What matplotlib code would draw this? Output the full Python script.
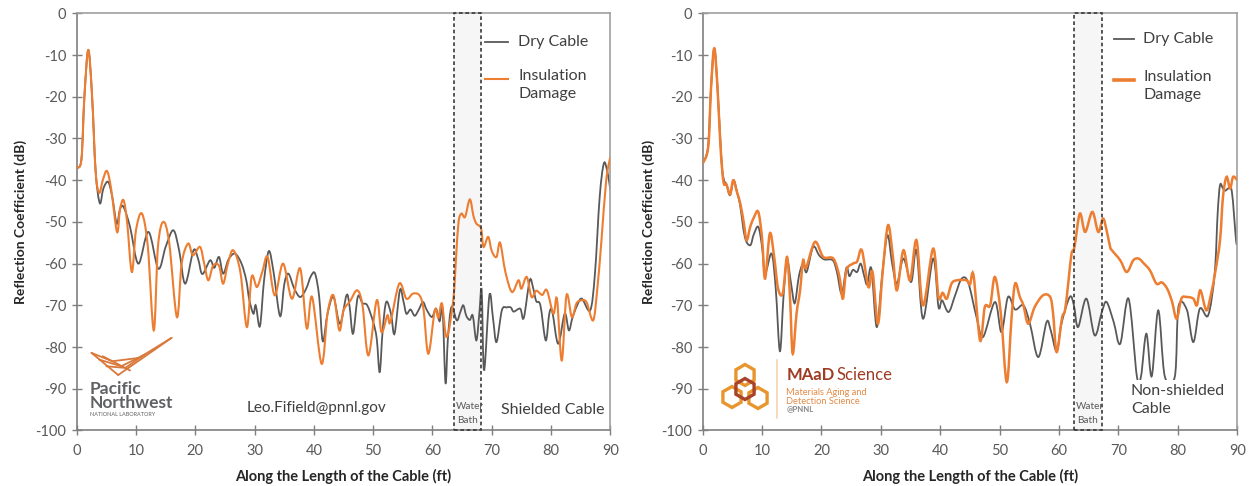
import numpy as np
import matplotlib
matplotlib.use("Agg")
import matplotlib.pyplot as plt
from matplotlib.path import Path
from matplotlib.patches import PathPatch, Rectangle, RegularPolygon
from matplotlib.lines import Line2D

plt.rcParams['font.family'] = ['Lato', 'DejaVu Sans']
plt.rcParams['axes.unicode_minus'] = False

# ---- shielded cable (left) ----
sh_dry_x = [0, 0.8, 1.3, 1.96, 2.6, 3.2, 3.9, 4.5, 5.3, 6.0, 6.75, 7.3, 7.9, 9.0, 10.4, 12.1, 13.76,
            15.0, 16.3, 17.3, 18.3, 19.7, 20.5, 21.2, 22.5, 23.2, 24.0, 24.7, 25.6, 26.7, 27.8, 28.6,
            29.1, 29.8, 30.2, 30.9, 31.6, 32.4, 33.2, 34.3, 35.0, 35.7, 36.7, 37.7, 38.7, 39.5, 40.2,
            40.9, 41.5, 42.3, 43.3, 44.4, 45.5, 46.0, 46.6, 47.4, 48.2, 49.0, 50.0, 50.6, 51.1, 51.6,
            52.2, 53.0, 53.6, 54.5, 55.1, 55.6, 56.3, 57.0, 57.7, 58.4, 59.0, 59.9, 60.6, 61.2, 61.7,
            62.2, 62.6, 63.2, 64.1, 64.7, 65.2, 65.7, 66.3, 66.8, 67.4, 67.9, 68.3, 68.7, 69.6, 70.2,
            70.8, 71.7, 72.5, 73.2, 73.7, 74.8, 75.4, 76.4, 77.0, 77.5, 78.2, 79.1, 79.7, 80.2, 81.2,
            82.3, 83.0, 83.6, 84.4, 85.2, 86.6, 87.4, 88.2, 88.9, 89.5, 90.0]
sh_dry_y = [-37, -35, -20, -8.8, -20, -38, -45.5, -42, -40.4, -44, -50.4, -47, -46.4, -51.2, -60, -52.4,
            -61.2, -56, -52, -57, -64.8, -56.8, -59, -62.5, -59.2, -61, -58.4, -62.4, -59, -57.6, -60,
            -64, -68.6, -72, -70, -75, -64, -57, -62, -72.6, -65, -62.4, -66, -68, -66, -63, -62.4,
            -68, -78.6, -72, -68, -74.4, -67.6, -70, -76.8, -68, -69.5, -70, -74, -78, -86, -76,
            -69.2, -72, -76.8, -66.4, -69, -72, -71, -72.5, -71, -69.2, -71, -72.8, -70.8, -73.8, -71,
            -88.6, -78, -70.4, -73.6, -71.6, -70, -72.5, -73.5, -72.5, -78.4, -72, -66.4, -85.6, -67.6, -73,
            -78.8, -71.2, -70.5, -70.5, -71.5, -70.8, -73, -64, -66, -69, -70, -78.4, -72, -71.5, -79.2,
            -72, -76, -73, -70, -68.4, -71.2, -62.4, -44, -36, -38, -42.4]

sh_dmg_x = [0, 0.8, 1.3, 1.96, 2.6, 3.2, 3.8, 4.4, 5.1, 5.8, 6.8, 7.3, 7.9, 8.5, 9.3, 10.0, 11.0, 12.0,
            13.0, 13.7, 14.6, 15.6, 16.9, 17.7, 18.8, 19.6, 20.8, 21.5, 22.2, 23.0, 24.0, 24.7, 25.5,
            26.4, 27.6, 28.7, 29.5, 30.4, 31.3, 32.2, 33.4, 34.8, 36.3, 37.7, 38.8, 39.7, 41.3, 42.3,
            43.3, 44.3, 45.0, 46.1, 47.3, 48.2, 49.2, 50.6, 51.4, 52.4, 52.9, 54.4, 55.6, 56.7, 57.8,
            58.5, 59.3, 60.4, 61.0, 61.6, 62.4, 63.5, 64.0, 64.4, 64.9, 65.5, 66.3, 66.9, 67.4, 68.2,
            68.6, 69.4, 70.0, 70.8, 71.4, 72.3, 73.4, 74.5, 75.0, 75.9, 76.7, 77.5, 78.5, 79.3, 80.4,
            81.0, 81.8, 82.6, 83.5, 84.3, 85.2, 86.0, 87.1, 87.8, 88.5, 89.3, 90.0]
sh_dmg_y = [-37, -35, -20, -8.8, -20, -38, -43, -40, -37.8, -42, -52.4, -47, -44.8, -50, -62, -52, -48, -56,
            -76, -56, -50, -55, -72.8, -60, -55.2, -58, -56, -60, -64, -60.5, -60.5, -64.8, -60,
            -56.8, -62, -75.2, -63.2, -65.6, -62, -58.4, -67.6, -60, -68.4, -61.2, -75.5, -68, -84, -72,
            -67.6, -76, -71.2, -69, -66.4, -70, -82, -68.8, -76.4, -72.4, -74, -64.8, -68.4, -67.2, -67.6,
            -71, -81.6, -71.2, -73, -69.6, -77.6, -68.8, -58, -50, -48, -48.8, -44.6, -48.5, -50.4, -51.6,
            -56, -53.6, -57, -58.4, -55, -62, -66.8, -64, -66, -63.2, -68, -66.5, -67.5, -66.4, -72,
            -68.5, -83.2, -67.6, -72.8, -69.5, -68.8, -69.3, -73.6, -66, -54.4, -40, -34.4]

# ---- non-shielded cable (right) ----
ns_dry_x = [0, 0.9, 1.4, 1.95, 2.5, 3.2, 3.6, 4.0, 4.6, 5.2, 5.8, 6.3, 7.1, 8.0, 8.6, 9.36, 10.0, 10.5,
            11.6, 12.3, 13.0, 13.6, 14.2, 14.9, 15.5, 16.2, 16.9, 17.5, 18.6, 19.6, 20.5, 21.9, 22.6,
            23.4, 24.2, 24.7, 25.3, 26.0, 26.6, 27.2, 27.7, 28.4, 29.3, 30.2, 31.1, 31.9, 32.7, 33.8,
            35.1, 36.0, 37.1, 38.8, 39.7, 40.3, 41.4, 42.5, 43.6, 44.7, 46.1, 47.2, 49.2, 50.3, 51.4,
            52.6, 54.0, 55.1, 56.5, 57.9, 58.6, 59.6, 60.4, 61.8, 62.5, 63.2, 64.6, 66.0, 67.2, 68.0,
            69.2, 70.3, 71.7, 73.1, 73.8, 74.7, 75.6, 76.7, 77.8, 79.5, 80.1, 81.5, 82.6, 83.7, 85.1,
            86.2, 86.7, 87.1, 87.6, 88.0, 88.5, 89.1, 89.8, 90.0]
ns_dry_y = [-36, -32, -18, -8.4, -18, -36, -40, -41, -43.6, -40, -43, -46, -53.6, -55.6, -53, -51.2, -56, -62.4,
            -57.6, -66, -81, -68, -59.2, -65, -69.5, -63, -60, -62, -56, -58, -59, -59.2, -62,
            -67.2, -61, -63, -61.5, -62, -60, -63, -65, -61.2, -75.2, -63, -53.2, -60, -64.8, -58.8,
            -64.4, -56.8, -73.2, -58.8, -70.4, -68.8, -71.6, -67.6, -63.6, -64.5, -72.8, -77.6, -69.2, -76.4, -68,
            -71, -70, -74.4, -82.4, -74, -76, -81, -74.4, -68, -70, -75.2, -68.4, -77.2, -71.6, -69.2,
            -74, -79.2, -68.4, -87, -87, -76.8, -87, -71.2, -87, -87, -70.4, -71, -78.8, -70.8, -72.4,
            -62.4, -48, -41.2, -42, -42.5, -42, -42.8, -54.4, -55]

ns_dmg_x = [0, 0.94, 1.4, 1.95, 2.5, 3.0, 3.5, 4.0, 4.6, 5.15, 5.8, 6.3, 6.9, 7.4, 8.0, 8.6, 9.36, 10.0,
            10.5, 11.3, 12.0, 12.7, 13.5, 14.2, 14.7, 15.15, 15.8, 16.4, 16.9, 17.4, 18.9, 20.3, 22.0,
            23.0, 23.6, 24.2, 25.3, 26.0, 26.8, 27.9, 28.6, 29.5, 30.3, 31.2, 32.0, 32.7, 33.8, 34.9,
            36.0, 37.1, 38.8, 39.7, 40.4, 41.1, 41.9, 42.8, 44.4, 45.0, 45.6, 46.7, 47.5, 48.4, 49.2,
            50.2, 51.2, 52.0, 52.6, 53.4, 54.0, 54.8, 55.9, 57.3, 58.5, 59.0, 59.6, 60.5, 61.0, 61.6,
            62.1, 62.6, 63.5, 64.4, 65.6, 66.6, 67.4, 68.0, 68.6, 68.9, 70.3, 71.4, 72.5, 73.4, 74.3,
            75.3, 76.4, 77.3, 78.2, 79.0, 79.8, 80.6, 81.5, 82.6, 83.2, 83.8, 84.8, 85.6, 86.3, 87.1,
            87.6, 88.2, 88.8, 89.3, 90.0]
ns_dmg_y = [-36, -32, -18, -8.4, -18, -32, -40.4, -41, -43.4, -40, -43, -45.4, -50, -54.4, -51.2, -49, -47.6, -54,
            -63.6, -52.8, -58, -66, -67, -58.4, -68, -81.6, -72, -66.4, -59.2, -61, -54.8, -58.4, -58.8,
            -63, -68.4, -61.6, -60, -59.5, -56.8, -65.6, -62, -74.4, -62, -50.8, -58, -66.4, -56.8, -64,
            -54.4, -70, -56.4, -68, -67, -68.4, -64.8, -64, -64, -65, -62.8, -78.4, -70.4, -70, -63.2,
            -72, -88.4, -73, -64.8, -68, -70, -74.4, -70.4, -67.6, -68, -72, -81.2, -73, -71.2, -64,
            -57.6, -56, -48, -52.4, -47.6, -52.4, -49.2, -52, -56, -56.8, -59.2, -62, -59.2, -58.8, -60,
            -61.6, -64.8, -64.5, -66, -69, -73.2, -68.4, -68, -68.4, -70, -66.4, -71.2, -67.2, -62, -54.4,
            -44, -39.2, -42, -39.2, -40]

legend_labels = ["Dry Cable", "Insulation\nDamage"]
x_ticks = list(range(0, 91, 10))
y_ticks = list(range(-100, 1, 10))

GRAY = '#595959'
ORANGE = '#ED7D31'


def smooth_path(x, y):
    # Bezier path through the points, same idea as a smoothed spreadsheet line
    n = len(x)
    verts = [(x[0], y[0])]
    codes = [Path.MOVETO]
    for i in range(n - 1):
        a = max(i - 1, 0)
        b = min(i + 2, n - 1)
        c1 = (x[i] + (x[i + 1] - x[a]) / 6, y[i] + (y[i + 1] - y[a]) / 6)
        c2 = (x[i + 1] - (x[b] - x[i]) / 6, y[i + 1] - (y[b] - y[i]) / 6)
        verts += [c1, c2, (x[i + 1], y[i + 1])]
        codes += [Path.CURVE4] * 3
    return Path(verts, codes)


def setup_axes(ax):
    ax.set_xlim(0, 90)
    ax.set_ylim(-100, 0)
    ax.set_xticks(x_ticks)
    ax.set_yticks(y_ticks)
    ax.tick_params(direction='inout', length=7, width=1, color='#7f7f7f',
                   labelsize=10.5, labelcolor='#595959')
    ax.tick_params(axis='y', pad=4)
    ax.tick_params(axis='x', pad=6)
    for side in ['left', 'bottom']:
        ax.spines[side].set_color('#7f7f7f')
        ax.spines[side].set_linewidth(1.2)
    for side in ['top', 'right']:
        ax.spines[side].set_color('#a0a0a0')
        ax.spines[side].set_linewidth(1.2)
    ax.set_xlabel("Along the Length of the Cable (ft)", fontsize=10.5, fontweight='bold', color='#262626')
    ax.set_ylabel("Reflection Coefficient (dB)", fontsize=10, fontweight='bold', color='#262626')
    ax.xaxis.set_label_coords(0.5, -0.093)


def water_bath(ax, x0, x1):
    fill = Rectangle((x0, -100), x1 - x0, 100, facecolor='#f6f6f6', edgecolor='none', zorder=0.5)
    ax.add_patch(fill)
    edge = Rectangle((x0, -100), x1 - x0, 100, facecolor='none', edgecolor='#3a3a3a',
                     linestyle=(0, (2.2, 1.6)), linewidth=1.2, zorder=4, clip_on=False)
    ax.add_patch(edge)
    t = ax.text(x0 + 0.3, -94.3, "Water", fontsize=7.2, color='#595959', va='center', ha='left', zorder=5)
    t.set_clip_path(fill)
    t2 = ax.text((x0 + x1) / 2, -97.6, "Bath", fontsize=7.2, color='#595959', va='center', ha='center',
                 zorder=5)
    t2.set_clip_path(fill)


def legend(ax, x0, x1, xt, y_dry, y_dmg, lw_dmg):
    ax.add_line(Line2D([x0, x1], [y_dry, y_dry], transform=ax.transAxes, color=GRAY, lw=1.3))
    ax.add_line(Line2D([x0, x1], [y_dmg, y_dmg], transform=ax.transAxes, color=ORANGE, lw=lw_dmg))
    ax.text(xt, y_dry, legend_labels[0], transform=ax.transAxes, fontsize=11.5, color='#404040',
            va='center', ha='left')
    ax.text(xt, y_dmg + 0.024, legend_labels[1], transform=ax.transAxes, fontsize=11.5, color='#404040',
            va='top', ha='left', linespacing=1.35)


fig = plt.figure(figsize=(12.51, 4.86), dpi=100)
ax1 = fig.add_axes([0.0613, 0.1142, 0.4266, 0.8584])
ax2 = fig.add_axes([0.5617, 0.1142, 0.4273, 0.8584])

# left: shielded cable
setup_axes(ax1)
ax1.yaxis.set_label_coords(-0.093, 0.5)
water_bath(ax1, 63.6, 68.2)
ax1.add_patch(PathPatch(smooth_path(sh_dry_x, sh_dry_y), fill=False, edgecolor=GRAY, lw=1.3, zorder=2))
ax1.add_patch(PathPatch(smooth_path(sh_dmg_x, sh_dmg_y), fill=False, edgecolor=ORANGE, lw=1.5, zorder=3))
legend(ax1, 0.765, 0.808, 0.827, 0.932, 0.842, 1.5)
ax1.text(28.7, -94.6, "Leo.Fifield@pnnl.gov", fontsize=11, color='#404040', va='center', ha='left')
ax1.text(71.5, -95.1, "Shielded Cable", fontsize=11.5, color='#404040', va='center', ha='left')

# PNNL mark
pn = '#D9783A'
for xs, ys in [([2.5, 7.0], [-81.4, -86.7]),
               ([7.0, 16.0], [-86.7, -77.8]),
               ([2.5, 6.0, 10.5, 16.0], [-81.4, -83.4, -82.6, -77.8]),
               ([3.8, 7.5, 11.5], [-83.0, -84.6, -81.8]),
               ([5.0, 8.2, 11.0], [-84.6, -85.0, -82.2]),
               ([4.4, 9.0], [-82.2, -85.6])]:
    ax1.plot(xs, ys, color=pn, lw=1.3, solid_capstyle='round', zorder=3)
ax1.text(2.1, -88.2, "Pacific\nNorthwest", fontsize=12.5, color='#606164', va='top', ha='left',
         linespacing=0.82, fontweight='bold')
ax1.text(2.3, -96.2, "NATIONAL LABORATORY", fontsize=4.0, color='#606164', va='center', ha='left')

# right: non-shielded cable
setup_axes(ax2)
ax2.yaxis.set_label_coords(-0.089, 0.5)
water_bath(ax2, 62.5, 67.2)
ax2.add_patch(PathPatch(smooth_path(ns_dry_x, ns_dry_y), fill=False, edgecolor=GRAY, lw=1.3, zorder=2))
ax2.add_patch(PathPatch(smooth_path(ns_dmg_x, ns_dmg_y), fill=False, edgecolor=ORANGE, lw=1.8, zorder=3))
legend(ax2, 0.769, 0.807, 0.824, 0.938, 0.840, 2.6)
ax2.text(72.1, -92.6, "Non-shielded\nCable", fontsize=11.5, color='#404040', va='center', ha='left',
         linespacing=1.35, zorder=4,
         bbox=dict(boxstyle='square,pad=0.25', facecolor='white', edgecolor='none'))

# MAaD Science mark
ax2.plot([12.46, 12.46], [-83.1, -97.0], color='#F6D3B0', lw=1.2)
ax2.text(14.1, -87.9, "MAaD", fontsize=12, fontweight='bold', color='#9E3B22', va='baseline', ha='left')
ax2.text(22.5, -87.9, "Science", fontsize=12, color='#9E3B22', va='baseline', ha='left')
ax2.text(14.1, -89.8, "Materials Aging and\nDetection Science", fontsize=6.7, color='#E48A45',
         va='top', ha='left', linespacing=0.95)
ax2.text(14.1, -94.8, "@PNNL", fontsize=5.6, color='#8a8a8a', va='center', ha='left', fontweight='bold')

lg = fig.add_axes([(718 / 1251), 1 - 416 / 486, 54 / 1251, 54 / 486])
lg.set_xlim(0, 54)
lg.set_ylim(0, 54)
lg.set_aspect('equal')
lg.axis('off')
for cx, cy, col in [(27, 41, '#E8952E'), (14, 19, '#E8952E'), (40, 18, '#E8952E'), (27, 27, '#A8432A')]:
    lg.add_patch(RegularPolygon((cx, cy), 6, radius=10.5, facecolor='none', edgecolor=col, lw=2.4))

fig.savefig("out.png", dpi=100)
